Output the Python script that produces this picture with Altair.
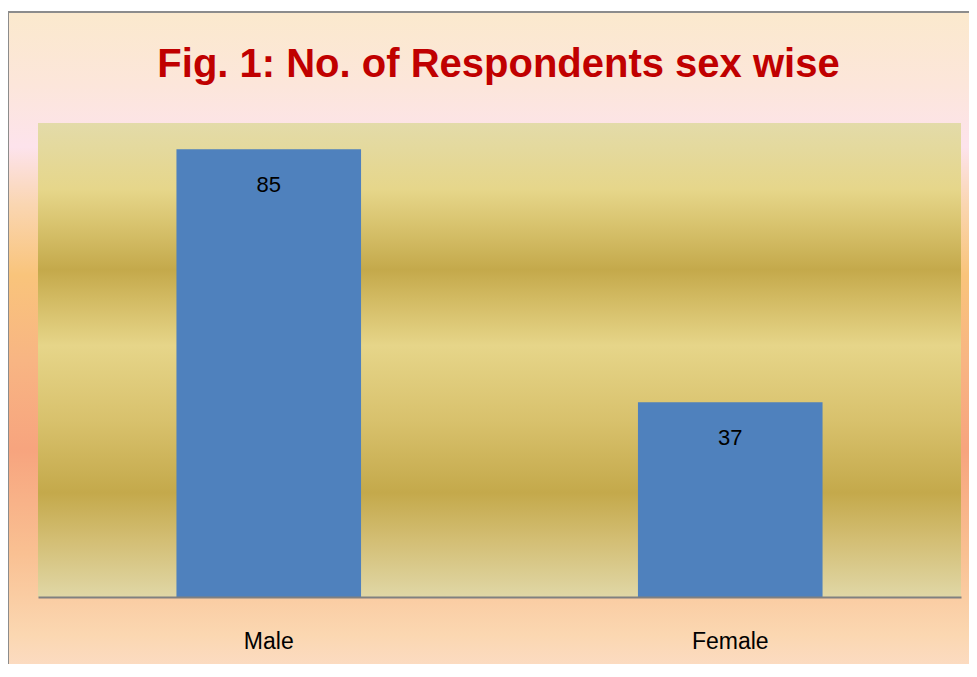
import altair as alt
import pandas as pd

categories = ["Male", "Female"]
values = [85, 37]
title_text = "Fig. 1: No. of Respondents sex wise"

df = pd.DataFrame({"sex": categories, "count": values})

W, H = 923, 474

frame_gradient = alt.Gradient(
    gradient="linear", x1=0, x2=0, y1=0, y2=1,
    stops=[
        alt.GradientStop(offset=0.0, color="#FBE9CD"),
        alt.GradientStop(offset=0.10, color="#FCE6DA"),
        alt.GradientStop(offset=0.19, color="#FDE3EC"),
        alt.GradientStop(offset=0.27, color="#FAD6B2"),
        alt.GradientStop(offset=0.37, color="#F9C47B"),
        alt.GradientStop(offset=0.49, color="#F8B583"),
        alt.GradientStop(offset=0.615, color="#F7A47E"),
        alt.GradientStop(offset=0.76, color="#F9C092"),
        alt.GradientStop(offset=0.876, color="#FBD7B1"),
        alt.GradientStop(offset=1.0, color="#FDE3DF"),
    ],
)

plot_gradient = alt.Gradient(
    gradient="linear", x1=0, x2=0, y1=0, y2=1,
    stops=[
        alt.GradientStop(offset=0.0, color="#E3DBA9"),
        alt.GradientStop(offset=0.14, color="#E6D68A"),
        alt.GradientStop(offset=0.215, color="#D8C36E"),
        alt.GradientStop(offset=0.31, color="#C4A94B"),
        alt.GradientStop(offset=0.37, color="#D2BA62"),
        alt.GradientStop(offset=0.47, color="#E6D589"),
        alt.GradientStop(offset=0.63, color="#D8C16C"),
        alt.GradientStop(offset=0.78, color="#C4A94B"),
        alt.GradientStop(offset=0.88, color="#D3BE74"),
        alt.GradientStop(offset=1.0, color="#E0D7A6"),
    ],
)

one = alt.Data(values=[{"k": 1}])

frame = alt.Chart(one).mark_rect(
    fill=frame_gradient, stroke="#8C8C8C", strokeWidth=2
).encode(
    x=alt.value(-30), x2=alt.value(960), y=alt.value(-111), y2=alt.value(600)
)

plot_bg = alt.Chart(one).mark_rect(fill=plot_gradient).encode(
    x=alt.value(0), x2=alt.value(W), y=alt.value(0), y2=alt.value(H)
)

x_enc = alt.X(
    "sex:N",
    sort=categories,
    scale=alt.Scale(paddingInner=0.6, paddingOuter=0.3),
    axis=alt.Axis(
        title=None, labelAngle=0, ticks=False, labelPadding=51,
        labelBaseline="alphabetic", labelFontSize=23, labelFont="Liberation Sans",
        labelColor="black", domainColor="#808080", domainWidth=2, zindex=1,
        grid=False,
    ),
)
y_enc = alt.Y("count:Q", scale=alt.Scale(domain=[0, 90]), axis=None)

bars = alt.Chart(df).mark_bar(color="#4F81BD").encode(x=x_enc, y=y_enc)

labels = alt.Chart(df).mark_text(
    baseline="alphabetic", dy=43, fontSize=22, font="Liberation Sans", color="black"
).encode(x=x_enc, y=y_enc, text="count:Q")

title = alt.Chart(one).mark_text(
    text=title_text, font="Liberation Sans", fontWeight="bold", fontSize=40,
    color="#C00000", baseline="alphabetic", align="center"
).encode(x=alt.value(460.5), y=alt.value(-46))

chart = alt.layer(frame, plot_bg, bars, labels, title).properties(
    width=W, height=H,
    padding={"left": 30, "top": 115, "right": 8, "bottom": 67},
    autosize=alt.AutoSizeParams(type="none"),
).configure_view(stroke=None)

chart.save("out.html", embed_options={"renderer": "svg", "actions": False})
